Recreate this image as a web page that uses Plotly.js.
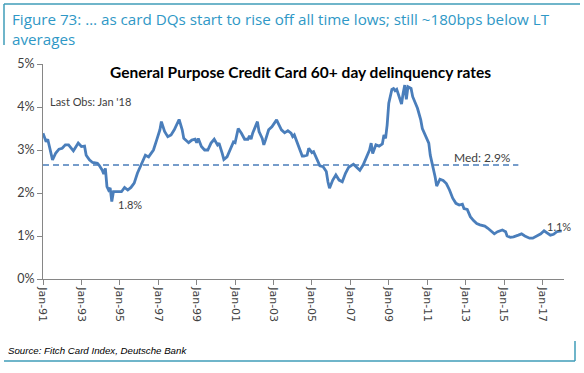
<!DOCTYPE html>
<html>
<head>
<meta charset="utf-8">
<script src="https://cdn.plot.ly/plotly-3.0.1.min.js"></script>
<style>
  html, body { margin: 0; padding: 0; background: #fff; }
  #chart { width: 584px; height: 373px; }
</style>
</head>
<body>
<div id="chart"></div>
<script>
// ---- data ----
const obsDates = [
  "1991-01","1991-03","1991-04","1991-05","1991-07","1991-09","1991-11",
  "1992-01","1992-03","1992-05","1992-08","1992-09","1992-11",
  "1993-01","1993-03","1993-04","1993-06","1993-08","1993-11","1993-12",
  "1994-02","1994-03","1994-04","1994-05","1994-06","1994-07","1994-08","1994-09","1994-11",
  "1995-02","1995-04","1995-06","1995-08","1995-10","1995-12",
  "1996-02","1996-04","1996-05","1996-07","1996-10","1996-12",
  "1997-02","1997-03","1997-05","1997-07","1997-09","1997-11",
  "1998-01","1998-02","1998-04","1998-05","1998-08","1998-10","1998-12",
  "1999-01","1999-02","1999-04","1999-06","1999-08","1999-10","1999-12",
  "2000-02","2000-03","2000-05","2000-06","2000-08","2000-10","2000-12",
  "2001-01","2001-03","2001-05","2001-07","2001-09","2001-10","2001-11","2001-12",
  "2002-03","2002-04","2002-06","2002-07","2002-08","2002-10","2002-12",
  "2003-02","2003-03","2003-04","2003-06","2003-08","2003-10","2003-12",
  "2004-01","2004-02","2004-04","2004-06","2004-07","2004-08","2004-10","2004-11",
  "2005-01","2005-02","2005-04","2005-06","2005-08","2005-10","2005-11","2005-12",
  "2006-02","2006-04","2006-06","2006-08","2006-10","2006-12",
  "2007-03","2007-05","2007-07","2007-09","2007-11",
  "2008-01","2008-02","2008-03","2008-05","2008-07","2008-09","2008-10","2008-11","2008-12",
  "2009-01","2009-03","2009-04","2009-05","2009-06","2009-08","2009-09","2009-10","2009-11","2009-12",
  "2010-01","2010-03","2010-04","2010-07","2010-09","2010-10","2010-12",
  "2011-02","2011-03","2011-05","2011-06","2011-07","2011-09","2011-11",
  "2012-01","2012-03","2012-05","2012-07","2012-09","2012-11","2012-12",
  "2013-02","2013-04","2013-06","2013-08","2013-10",
  "2014-01","2014-03","2014-05","2014-07","2014-09","2014-11","2014-12",
  "2015-02","2015-03","2015-05","2015-07","2015-10","2015-12",
  "2016-02","2016-05","2016-07","2016-10","2016-12",
  "2017-02","2017-04","2017-06","2017-08","2017-10",
  "2018-01"
];
const dqRate = [
  3.39,3.19,3.25,3.08,2.77,2.93,3.02,
  3.04,3.12,3.12,2.98,3.04,3.16,
  3.08,3.09,2.88,2.77,2.71,2.69,2.65,
  2.53,2.44,2.57,2.15,2.07,2.12,1.80,2.03,2.03,
  2.03,2.13,2.07,2.13,2.23,2.46,
  2.65,2.83,2.88,2.84,3.00,3.23,
  3.47,3.66,3.43,3.31,3.35,3.47,
  3.62,3.71,3.47,3.27,3.17,3.23,3.25,
  3.17,3.27,3.08,3.00,3.00,3.16,3.25,
  3.12,3.16,2.92,2.78,2.84,3.00,3.19,
  3.17,3.50,3.39,3.25,3.25,3.33,3.25,3.39,
  3.66,3.43,3.27,3.12,3.23,3.47,3.54,
  3.64,3.70,3.62,3.47,3.40,3.45,3.39,
  3.31,3.35,3.16,2.92,2.86,2.86,2.88,3.04,
  2.94,2.96,2.78,2.63,2.61,2.50,2.26,2.11,
  2.30,2.42,2.30,2.26,2.46,2.60,
  2.67,2.60,2.53,2.65,2.83,
  3.00,3.16,2.92,3.12,3.09,3.14,3.35,3.27,3.58,
  4.09,4.41,4.43,4.38,4.41,4.18,4.07,4.32,4.51,4.18,
  4.47,4.43,4.24,3.97,3.70,3.50,3.33,
  3.16,2.88,2.57,2.38,2.16,2.32,2.29,
  2.22,2.07,1.88,1.76,1.72,1.74,1.64,
  1.62,1.45,1.36,1.29,1.26,
  1.23,1.18,1.12,1.05,1.10,1.12,1.14,
  1.10,1.00,0.97,0.98,1.02,1.05,
  1.00,0.95,0.95,1.00,1.05,
  1.12,1.06,1.02,1.04,1.10,
  1.12
];
const medianLevel = 2.65;
const medianEnd = "2015-10";
const yTickVals = [0, 1, 2, 3, 4, 5];
const yTickText = ["0%", "1%", "2%", "3%", "4%", "5%"];

const figTitle = "Figure 73: \u2026 as card DQs start to rise off all time lows; still ~180bps below LT<br>averages";
const chartTitle = "General Purpose Credit Card 60+ day delinquency rates";
const sourceText = "Source: Fitch Card Index, Deutsche Bank";

// ---- layout helpers (pixel -> paper) ----
const L = 43, R = 564, T = 64, B = 279;
const px = x => (x - L) / (R - L);
const py = y => (B - y) / (B - T);

const blue = "#4A7EBB";
const teal = "#3F9CB8";
const titleBlue = "#2F98C6";
const chartFont = "Lato, 'Open Sans', sans-serif";
const headFont = "'Open Sans', 'Liberation Sans', sans-serif";

const trace = {
  x: obsDates.map(d => d + "-01"),
  y: dqRate,
  type: "scatter",
  mode: "lines",
  line: { color: blue, width: 2.8 },
  hoverinfo: "skip"
};

const layout = {
  width: 584, height: 373,
  margin: { l: L, r: 584 - R, t: T, b: 373 - B },
  paper_bgcolor: "#fff",
  plot_bgcolor: "#fff",
  showlegend: false,
  xaxis: {
    type: "date",
    range: ["1991-01-01", "2018-02-15"],
    tick0: "1991-01-01",
    dtick: "M24",
    tickformat: "%b-%y",
    tickangle: 90,
    ticks: "outside", ticklen: 5, tickcolor: "#868686",
    showline: true, linecolor: "#868686", linewidth: 1,
    showgrid: false, zeroline: false,
    tickfont: { family: "'DejaVu Sans', sans-serif", size: 11, color: "#404040" }
  },
  yaxis: {
    range: [0, 5],
    tickvals: yTickVals, ticktext: yTickText,
    ticks: "outside", ticklen: 5, tickcolor: "#868686",
    showline: true, linecolor: "#868686", linewidth: 1,
    showgrid: false, zeroline: false,
    tickfont: { family: chartFont, size: 12.5, color: "#404040" }
  },
  shapes: [
    { type: "line", xref: "x", yref: "y", x0: "1991-01-01", x1: medianEnd + "-01",
      y0: medianLevel, y1: medianLevel, line: { color: blue, width: 1.5, dash: "6px,4px" } },
    // figure title frame
    { type: "line", xref: "paper", yref: "paper", x0: px(4), x1: px(580), y0: py(4), y1: py(4),
      line: { color: teal, width: 1.5 } },
    { type: "line", xref: "paper", yref: "paper", x0: px(4), x1: px(4), y0: py(4), y1: py(45),
      line: { color: teal, width: 1.5 } },
    // source frame
    { type: "line", xref: "paper", yref: "paper", x0: px(4), x1: px(575), y0: py(361), y1: py(361),
      line: { color: teal, width: 1.5 } },
    { type: "line", xref: "paper", yref: "paper", x0: px(575), x1: px(575), y0: py(341), y1: py(361),
      line: { color: teal, width: 1.5 } }
  ],
  annotations: [
    { text: figTitle, xref: "paper", yref: "paper", x: px(10), y: py(28.5), xanchor: "left", yanchor: "middle",
      align: "left", showarrow: false, font: { family: headFont, size: 15.2, color: titleBlue } },
    { text: "<b>" + chartTitle + "</b>", xref: "paper", yref: "paper", x: px(300), y: py(72), xanchor: "center", yanchor: "middle",
      showarrow: false, font: { family: chartFont, size: 15.5, color: "#000" } },
    { text: "Last Obs: Jan '18", xref: "paper", yref: "paper", x: px(48), y: py(101), xanchor: "left", yanchor: "middle",
      showarrow: false, font: { family: chartFont, size: 11, color: "#404040" } },
    { text: "1.8%", xref: "paper", yref: "paper", x: px(116), y: py(205), xanchor: "left", yanchor: "middle",
      showarrow: false, font: { family: chartFont, size: 11, color: "#404040" } },
    { text: "Med: 2.9%", xref: "paper", yref: "paper", x: px(452), y: py(157), xanchor: "left", yanchor: "middle",
      showarrow: false, font: { family: chartFont, size: 12, color: "#404040" } },
    { text: "1.1%", xref: "paper", yref: "paper", x: px(545), y: py(226), xanchor: "left", yanchor: "middle",
      showarrow: false, font: { family: chartFont, size: 11, color: "#404040" } },
    { text: "<i>" + sourceText + "</i>", xref: "paper", yref: "paper", x: px(6), y: py(350), xanchor: "left", yanchor: "middle",
      showarrow: false, font: { family: "'Liberation Sans', Arial, sans-serif", size: 9.7, color: "#000" } }
  ]
};

Plotly.newPlot("chart", [trace], layout, { displayModeBar: false, staticPlot: true });
</script>
</body>
</html>
